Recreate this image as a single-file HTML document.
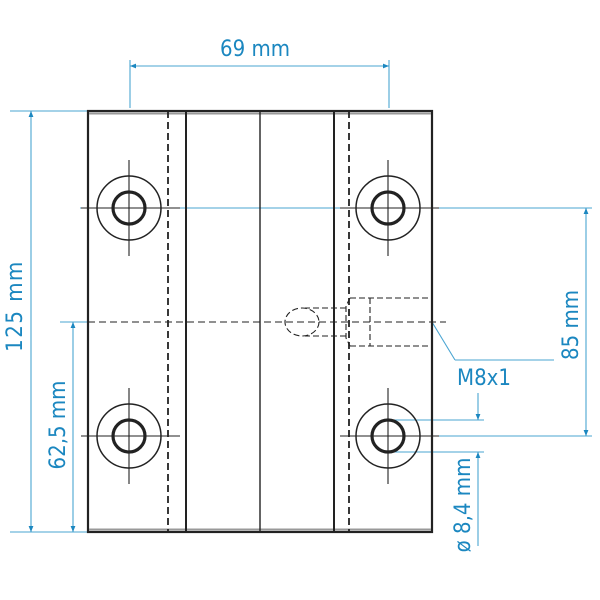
<!DOCTYPE html>
<html><head><style>body{margin:0;background:#fff}svg{display:block}text{font-family:"DejaVu Sans Condensed","Liberation Sans",sans-serif;fill:#1b87c0;font-size:22px}</style></head>
<body>
<svg width="600" height="600" viewBox="0 0 600 600" xmlns="http://www.w3.org/2000/svg">
<defs>
<marker id="a" viewBox="0 0 10 10" refX="10" refY="5" markerWidth="12" markerHeight="6" orient="auto-start-reverse" markerUnits="userSpaceOnUse"><path d="M0,1 L10,5 L0,9 Z" fill="#1b87c0"/></marker>
</defs>
<g stroke="#4aa5d2" stroke-width="1.1" fill="none">
<line x1="130" y1="60" x2="130" y2="108"/>
<line x1="389" y1="60" x2="389" y2="108"/>
<line x1="10" y1="111" x2="88" y2="111"/>
<line x1="10" y1="532" x2="88" y2="532"/>
<line x1="60" y1="322" x2="88" y2="322"/>
<line x1="80" y1="208" x2="592" y2="208"/>
<line x1="388" y1="436" x2="592" y2="436"/>
<line x1="388" y1="420" x2="484" y2="420"/>
<line x1="388" y1="452" x2="484" y2="452"/>
<line x1="432" y1="322" x2="455" y2="360"/>
<line x1="455" y1="360" x2="554" y2="360"/>
<line x1="478" y1="393" x2="478" y2="420" marker-end="url(#a)"/>
<line x1="478" y1="546" x2="478" y2="452" marker-end="url(#a)"/>
</g>
<g stroke="#4aa5d2" stroke-width="1.1">
<line x1="130" y1="66" x2="389" y2="66" marker-start="url(#a)" marker-end="url(#a)"/>
<line x1="31" y1="111" x2="31" y2="532" marker-start="url(#a)" marker-end="url(#a)"/>
<line x1="73" y1="322" x2="73" y2="532" marker-start="url(#a)" marker-end="url(#a)"/>
<line x1="586" y1="208" x2="586" y2="436" marker-start="url(#a)" marker-end="url(#a)"/>
</g>
<rect x="88" y="111" width="344" height="421" fill="none" stroke="#222" stroke-width="2.2"/>
<line x1="89" y1="113.5" x2="431" y2="113.5" stroke="#999" stroke-width="2"/>
<line x1="89" y1="529.5" x2="431" y2="529.5" stroke="#999" stroke-width="2"/>
<g stroke="#222" fill="none">
<line x1="186" y1="111" x2="186" y2="532" stroke-width="2"/>
<line x1="260" y1="111" x2="260" y2="532" stroke-width="1.4"/>
<line x1="334" y1="111" x2="334" y2="532" stroke-width="2"/>
<line x1="168" y1="111" x2="168" y2="532" stroke-width="1.8" stroke-dasharray="7,4"/>
<line x1="349" y1="111" x2="349" y2="532" stroke-width="1.8" stroke-dasharray="7,4"/>
<line x1="88" y1="322" x2="446" y2="322" stroke-width="1.1" stroke-dasharray="7,4"/>
<path d="M350,298 H431 M350,346 H431 M370,298 V346 M350,298 L346,306 V338 L350,346" stroke-width="1.1" stroke-dasharray="6,3"/>
<path d="M346,308 H305 M346,336 H305" stroke-width="1.1" stroke-dasharray="6,3"/>
<ellipse cx="302" cy="322" rx="17" ry="14" stroke-width="1.1" stroke-dasharray="6,3"/>
</g>
<g stroke="#222" fill="none">
<g id="h">
<circle cx="129" cy="208" r="32" stroke-width="1.5"/>
<circle cx="129" cy="208" r="16" stroke-width="3.2"/>
<line x1="81" y1="208" x2="180" y2="208" stroke-width="1.1"/>
<line x1="129" y1="160" x2="129" y2="256" stroke-width="1.1"/>
</g>
<use href="#h" x="259" y="0"/>
<use href="#h" x="0" y="228"/>
<use href="#h" x="259" y="228"/>
</g>
<text x="255" y="56" text-anchor="middle">69 mm</text>
<text x="457" y="385">M8x1</text>
<text transform="translate(22,306) rotate(-90)" text-anchor="middle" letter-spacing="1.5">125 mm</text>
<text transform="translate(65,425) rotate(-90)" text-anchor="middle">62,5 mm</text>
<text transform="translate(578,325) rotate(-90)" text-anchor="middle">85 mm</text>
<text transform="translate(470,505) rotate(-90)" text-anchor="middle">ø 8,4 mm</text>
</svg>
</body></html>
